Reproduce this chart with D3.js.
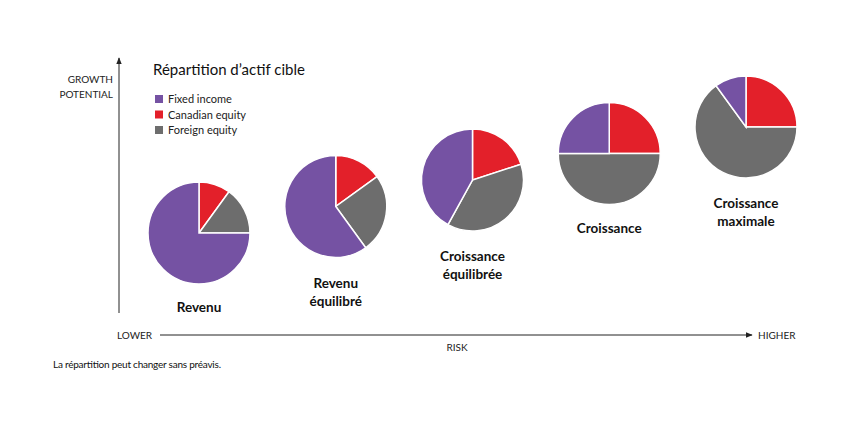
<!DOCTYPE html><html><head><meta charset="utf-8"><script src="https://cdn.jsdelivr.net/npm/d3@7"></script>
<style>body{margin:0;background:#fff}text{font-family:Lato,"Open Sans",sans-serif}</style></head><body>
<svg width="850" height="425"></svg>
<script>
const series=["Fixed income","Canadian equity","Foreign equity"];
const colors=["#7552a3","#e3202a","#6d6d6d"];
const portfolios=["Revenu","Revenu équilibré","Croissance équilibrée","Croissance","Croissance maximale"];
const labelLines=[["Revenu"],["Revenu","équilibré"],["Croissance","équilibrée"],["Croissance"],["Croissance","maximale"]];
const fixedIncome=[75,60,42,25,10];
const canadian=[10,15,20,25,25];
const foreign=[15,25,38,50,65];
const riskRank=[0,1,2,3,4];
const growthRank=[0,1,2,3,4];
const svg=d3.select("svg");
const x=d3.scaleLinear().domain([0,4]).range([199,746]);
const y=d3.scaleLinear().domain([0,4]).range([233,127]);
const r=51;
const pie=d3.pie().sort(null).value(d=>d.v);
const arc=d3.arc().innerRadius(0).outerRadius(r);
portfolios.forEach((p,i)=>{
  const data=[{k:1,v:canadian[i]},{k:2,v:foreign[i]},{k:0,v:fixedIncome[i]}];
  const g=svg.append("g").attr("transform",`translate(${x(riskRank[i])},${y(growthRank[i])})`);
  g.selectAll("path").data(pie(data)).join("path").attr("d",arc).attr("fill",d=>colors[d.data.k]).attr("stroke","#fff").attr("stroke-width",1.5);
  const ly=y(growthRank[i])+r+(labelLines[i].length==1?28:30);
  labelLines[i].forEach((t,j)=>svg.append("text").attr("x",x(riskRank[i])).attr("y",ly+j*18).attr("text-anchor","middle").attr("font-size",13.5).attr("font-weight","bold").attr("fill","#111").text(t));
});
svg.append("defs").append("marker").attr("id","ar").attr("viewBox","0 0 10 10").attr("refX",9).attr("refY",5).attr("markerWidth",7).attr("markerHeight",7).attr("orient","auto").append("path").attr("d","M0,1L10,5L0,9z").attr("fill","#222");
svg.append("line").attr("x1",119).attr("y1",313).attr("x2",119).attr("y2",58).attr("stroke","#222").attr("marker-end","url(#ar)");
svg.append("line").attr("x1",160).attr("y1",335).attr("x2",752).attr("y2",335).attr("stroke","#222").attr("marker-end","url(#ar)");
const sm=(t,xx,yy,a)=>svg.append("text").attr("x",xx).attr("y",yy).attr("text-anchor",a).attr("font-size",10).attr("fill","#222").text(t);
sm("GROWTH",113,83,"end");sm("POTENTIAL",113,98,"end");
sm("LOWER",117,339,"start");sm("HIGHER",758,339,"start");sm("RISK",457,351,"middle");
svg.append("text").attr("x",153).attr("y",75).attr("font-size",15).attr("fill","#111").text("Répartition d’actif cible");
series.forEach((s,i)=>{
  svg.append("rect").attr("x",155).attr("y",95+i*15.5).attr("width",8).attr("height",8).attr("fill",colors[i]);
  svg.append("text").attr("x",168).attr("y",103+i*15.5).attr("font-size",11).attr("fill","#222").text(s);
});
svg.append("text").attr("x",53).attr("y",368).attr("font-size",10).attr("fill","#111").attr("textLength",168).text("La répartition peut changer sans préavis.");
</script></body></html>
